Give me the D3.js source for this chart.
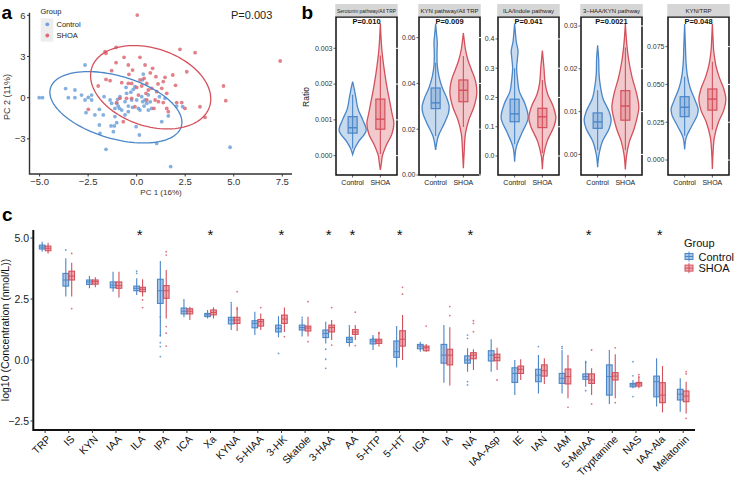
<!DOCTYPE html>
<html><head><meta charset="utf-8">
<script src="https://cdn.jsdelivr.net/npm/d3@7"></script>
<style>body{margin:0;background:#fff}svg{display:block;font-family:'Liberation Sans',Arial,sans-serif}</style>
</head><body><svg id="c" width="738" height="477"></svg>
<script>
// ---------------- DATA ----------------
// Panel a: PCA scores
const ctrlX=[-5.02,-4.85,-3.66,-3.52,-3.18,-3.18,-2.84,-2.66,-2.49,-2.32,-2.61,-2.66,-2.32,-2.15,-1.92,-1.92,-1.89,-1.68,-1.72,-1.58,-1.37,-1.32,-1.29,-1.2,-1.15,-1.12,-1.12,-1.03,-0.98,-0.95,-0.89,-0.86,-0.77,-0.6,-0.6,-0.55,-0.52,-0.43,-0.43,-0.26,-0.21,-0.17,-0.09,-0.03,0,0.09,0.17,0.26,0.31,0.34,0.38,0.43,0.14,0.52,0.6,0.77,1.03,1.17,1.29,1.46,1.63,1.75,2.06,2.37,4.81,-1.03,0.6,0.3,-0.3,0.7];
const ctrlY=[0,0,0.66,0,0.56,0,0.19,-0.17,0.02,-0.17,-1.09,2.38,0.19,-1.26,-0.85,-1.99,-2.6,0.07,-1.26,-3.76,-0.17,-2.06,-0.41,-2.48,-2.06,-0.78,-1.38,-0.41,-0.12,-0.61,-0.78,0.07,-0.9,-0.29,-1.26,0.75,0.32,-0.61,-1.02,-0.17,-0.7,0.61,0.8,-2.11,-0.17,-0.78,-0.9,0.07,-0.29,1.72,-0.61,-0.17,-2.72,-0.41,-0.9,-0.78,-3.33,0.07,-1.75,-0.05,-1.33,-5.02,-0.61,-0.66,-3.61,-1.82,0.2,1.3,0.4,-0.3];
const shoaX=[0.03,-1.58,-1.63,-1.06,-1.06,-0.65,-0.43,-0.21,0.17,0.43,0.38,0.82,0.99,1.46,1.86,2.23,3.01,2.58,1.37,0.52,0.17,-0.77,-0.43,-1.29,-1.58,-1.98,-0.26,0,0.26,0.6,0.77,1.03,1.29,1.55,0.48,0.09,-0.26,-0.52,-0.86,-1.03,0.95,1.12,1.37,0.89,1.55,2.06,2.32,2.49,3.26,3.52,4.47,4.59,1.63,-0.69,-2.49,-1.37,-0.09,0.52,7.39,0.7,1.1,-0.4,2.0];
const shoaY=[6.02,3.23,3.35,3.67,2.55,2.94,2.38,2.01,2.94,2.38,1.41,2.14,1.53,1.48,1.65,3.52,3.28,1.89,1.17,1.04,1.29,1.09,1.04,1.97,1.33,0.85,1.04,0.75,0.85,0.56,0.68,0.44,0.68,0.32,0.32,0.19,-0.05,-0.05,-0.05,-0.36,-0.17,-0.29,-0.36,-0.78,-0.78,-0.36,-0.36,-0.78,-0.66,-1.43,0.85,-0.22,-1.02,-1.75,-0.85,1.24,-0.66,-0.17,2.67,1.8,1.0,1.7,0.9];
// 95% ellipses: [centerX, centerY, axis1 dx, axis1 dy, axis2 dx, axis2 dy] (data units)
const ctrlEllipse=[-1.07,-0.70,3.37,-1.40,-0.456,-2.19];
const shoaEllipse=[0.72,0.76,3.03,-1.43,-0.636,-2.68];
const pcaXTicks=[-5,-2.5,0,2.5,5,7.5];
const pcaYTicks=[-3,0,3,6];
const pcaP="P=0.003";

// Panel b: ratios (violin profiles [value, relative width]; box [lo,q1,med,q3,hi])
const ratioNames=["Serotonin pathway/All TRP","KYN pathway/All TRP","ILA/Indole pathway","3\u2212HAA/KYN pathway","KYN/TRP"];
const ratioP=["P=0.010","P=0.009","P=0.041","P=0.0021","P=0.048"];
const ratioDomains=[[-0.00054,0.003874],[0,0.069],[-0.065,0.475],[-0.0048,0.0321],[-0.0099,0.0946]];
const ratioTicks=[[0,0.001,0.002,0.003],[0,0.02,0.04,0.06],[0,0.1,0.2,0.3,0.4],[0,0.01,0.02,0.03],[0,0.025,0.05,0.075]];
const ratioFormats=[".3f",".2f",".1f",".2f",".3f"];
const ctrlViolin=[
 [[0.00003,0],[0.0002,0.15],[0.0004,0.45],[0.0007,1.0],[0.001,0.75],[0.0013,0.4],[0.0016,0.25],[0.0019,0.1],[0.00207,0]],
 [[0.011,0],[0.017,0.2],[0.022,0.6],[0.027,0.95],[0.03,1.0],[0.034,0.8],[0.038,0.5],[0.043,0.25],[0.048,0.12],[0.053,0.1],[0.058,0.12],[0.062,0.06],[0.066,0]],
 [[-0.02,0],[0.03,0.12],[0.08,0.55],[0.13,1.0],[0.18,0.75],[0.22,0.35],[0.26,0.22],[0.3,0.15],[0.33,0.2],[0.36,0.25],[0.39,0.12],[0.42,0.06],[0.453,0]],
 [[-0.003,0],[0.0,0.1],[0.003,0.35],[0.006,0.85],[0.008,1.0],[0.01,0.85],[0.013,0.4],[0.016,0.2],[0.019,0.1],[0.022,0.08],[0.0255,0]],
 [[0.007,0],[0.015,0.12],[0.022,0.5],[0.03,0.95],[0.034,1.0],[0.04,0.75],[0.048,0.4],[0.056,0.2],[0.065,0.1],[0.075,0.06],[0.09,0]]
];
const shoaViolin=[
 [[-0.0004,0],[-0.0002,0.08],[0,0.15],[0.0003,0.45],[0.0006,0.85],[0.0009,1.0],[0.0012,0.85],[0.0015,0.7],[0.002,0.45],[0.0025,0.25],[0.003,0.1],[0.0037,0]],
 [[0.003,0],[0.01,0.06],[0.018,0.15],[0.024,0.4],[0.03,0.8],[0.036,1.0],[0.041,0.9],[0.046,0.6],[0.05,0.35],[0.055,0.15],[0.059,0.06],[0.062,0]],
 [[-0.045,0],[0.0,0.08],[0.05,0.35],[0.1,0.85],[0.13,1.0],[0.17,0.8],[0.21,0.4],[0.25,0.2],[0.3,0.12],[0.36,0]],
 [[-0.0035,0],[0.0,0.1],[0.003,0.3],[0.006,0.65],[0.009,0.9],[0.011,1.0],[0.014,0.85],[0.018,0.5],[0.022,0.25],[0.026,0.1],[0.0305,0]],
 [[-0.006,0],[0.005,0.05],[0.015,0.15],[0.025,0.45],[0.033,0.85],[0.04,1.0],[0.047,0.85],[0.055,0.5],[0.063,0.25],[0.072,0.1],[0.08,0.05],[0.09,0]]
];
const ctrlRatioBox=[[0.0002,0.00063,0.00078,0.00109,0.0017],[0.017,0.029,0.0315,0.038,0.049],[0.04,0.117,0.144,0.194,0.3],[0.001,0.0061,0.0076,0.0097,0.015],[0.016,0.0287,0.0349,0.0419,0.055]];
const shoaRatioBox=[[0.00005,0.00074,0.00102,0.00158,0.0028],[0.021,0.032,0.037,0.0415,0.052],[0.01,0.097,0.134,0.163,0.26],[0.001,0.008,0.0113,0.0149,0.025],[0.02,0.033,0.0403,0.047,0.065]];
const groups=["Control","SHOA"];

// Panel c: metabolites, log10 concentration box stats [lo,q1,med,q3,hi]
const metabolites=["TRP","IS","KYN","IAA","ILA","IPA","ICA","Xa","KYNA","5-HIAA","3-HK","Skatole","3-HAA","AA","5-HTP","5\u2212HT","IGA","IA","NA","IAA-Asp","IE","IAN","IAM","5-MeIAA","Tryptamine","NAS","IAA-Ala","Melatonin"];
const significant=["ILA","Xa","3-HK","3-HAA","AA","5\u2212HT","NA","5-MeIAA","IAA-Ala"];
const ctrlStats=[[4.44,4.55,4.63,4.71,4.85],[2.6,3.03,3.28,3.55,4.17],[2.94,3.10,3.2,3.28,3.44],[2.8,2.96,3.07,3.2,3.62],[2.66,2.84,2.94,3.03,3.35],[0.96,2.32,2.84,3.31,4.06],[1.75,1.89,2.0,2.13,2.5],[1.7,1.78,1.85,1.91,2.05],[1.23,1.48,1.64,1.75,2.32],[1.02,1.32,1.5,1.61,1.98],[0.93,1.15,1.3,1.43,1.8],[0.96,1.23,1.33,1.43,1.7],[0.68,0.92,1.09,1.23,1.57],[0.55,0.72,0.85,0.93,1.37],[0.41,0.66,0.77,0.85,1.02],[-0.31,0.11,0.34,0.78,1.39],[0.34,0.46,0.57,0.64,0.75],[-0.93,-0.13,0.2,0.64,1.43],[-0.48,-0.13,0.0,0.17,0.48],[-0.48,-0.04,0.2,0.38,0.85],[-1.44,-0.92,-0.55,-0.32,0.0],[-1.37,-0.89,-0.62,-0.38,0.2],[-1.37,-0.96,-0.75,-0.55,0.41],[-1.1,-0.79,-0.68,-0.57,-0.03],[-1.8,-1.44,-0.68,-0.2,0.41],[-1.16,-1.1,-1.02,-0.96,-0.82],[-1.91,-1.51,-0.89,-0.66,0.07],[-2.12,-1.64,-1.4,-1.2,-0.75]];
const shoaStats=[[4.37,4.48,4.58,4.67,4.81],[2.6,3.28,3.44,3.64,3.99],[2.98,3.11,3.21,3.28,3.39],[2.56,2.94,3.05,3.2,3.62],[2.6,2.8,2.9,2.98,3.31],[1.7,2.53,2.84,3.05,3.69],[1.64,1.89,2.0,2.1,2.18],[1.7,1.85,1.95,2.05,2.16],[1.19,1.5,1.64,1.75,2.18],[1.23,1.39,1.57,1.66,1.91],[1.15,1.5,1.68,1.84,2.15],[0.96,1.19,1.31,1.39,1.77],[0.82,1.15,1.33,1.43,1.64],[0.82,1.05,1.15,1.25,1.43],[0.55,0.68,0.78,0.85,1.16],[0.0,0.57,0.85,1.2,1.84],[0.34,0.38,0.5,0.57,0.66],[-1.05,-0.2,0.2,0.44,1.34],[-0.41,0.05,0.2,0.3,0.44],[-0.41,-0.03,0.1,0.24,0.5],[-0.82,-0.55,-0.38,-0.25,0.03],[-0.98,-0.66,-0.44,-0.2,0.07],[-1.57,-0.98,-0.68,-0.37,0.2],[-1.44,-0.96,-0.82,-0.57,-0.34],[-1.57,-0.82,-0.66,-0.52,0.24],[-1.16,-1.07,-0.98,-0.92,-0.68],[-2.15,-1.75,-1.44,-0.93,-0.25],[-2.19,-1.71,-1.48,-1.27,-0.89]];
const ctrlOutliers=[[],[4.51],[],[],[3.55,3.64],[0.71,0.55,0.14,1.77,1.0],[],[],[2.35],[],[0.27],[1.75],[0.44,0.03,-0.34],[1.4],[0.9],[],[],[],[1.02,0.89,-0.89,-1.02],[],[],[0.55],[0.55,0.48],[-1.26,-0.1],[],[-0.07,-1.5,-0.65],[],[]];
const shoaOutliers=[[],[4.37,2.11],[],[],[2.46,2.15],[4.44,4.3,1.37,1.1,0.57],[],[],[2.8,2.1],[2.15],[0.96],[2.39,0.75],[2.15,0.61],[1.96,0.59],[1.1],[2.98,2.7],[1.39],[2.19,1.82],[1.61,1.5,1.16],[-0.82],[],[],[-1.94],[0.41,-1.8],[0.5,-1.75],[-0.6,-0.7],[],[-0.48,-0.57,-2.39]];
const concTicks=[-2.5,0,2.5,5];

// ---------------- DRAW ----------------
const svg=d3.select("#c");
const BLUE="#4A86C8", RED="#D4505B", BLUE_PT="#6FA2DA", RED_PT="#DD6B74";
const col={Control:BLUE,SHOA:RED};
const fmtNum=v=>d3.format(".1f")(v).replace("-","\u2212");

// ===== Panel a =====
const xA=d3.scaleLinear().domain([-5.52,8.0]).range([29.5,292]);
const yA=d3.scaleLinear().domain([-5.56,6.19]).range([174,12.7]);
const gA=svg.append("g");
gA.selectAll("circle.c").data(d3.zip(ctrlX,ctrlY)).join("circle")
  .attr("cx",d=>xA(d[0])).attr("cy",d=>yA(d[1])).attr("r",1.9).attr("fill",BLUE_PT).attr("opacity",0.85);
gA.selectAll("circle.s").data(d3.zip(shoaX,shoaY)).join("circle")
  .attr("cx",d=>xA(d[0])).attr("cy",d=>yA(d[1])).attr("r",1.9).attr("fill",RED_PT).attr("opacity",0.85);
function ellipsePts(e){
  return d3.range(0,121).map(i=>{const t=i/120*2*Math.PI;
    return [xA(e[0]+Math.cos(t)*e[2]+Math.sin(t)*e[4]), yA(e[1]+Math.cos(t)*e[3]+Math.sin(t)*e[5])];});
}
[[ctrlEllipse,BLUE],[shoaEllipse,RED]].forEach(([e,c])=>{
  gA.append("path").attr("d",d3.line()(ellipsePts(e))).attr("fill","none").attr("stroke",c).attr("stroke-width",1.3);
});
gA.append("path").attr("d",`M${xA.range()[0]},${yA.range()[1]}V${yA.range()[0]}H${xA.range()[1]}`)
  .attr("fill","none").attr("stroke","#333").attr("stroke-width",1.4);
pcaXTicks.forEach(t=>{
  gA.append("line").attr("x1",xA(t)).attr("x2",xA(t)).attr("y1",174).attr("y2",176.5).attr("stroke","#333");
  gA.append("text").attr("x",xA(t)).attr("y",185).attr("text-anchor","middle").attr("font-size",9.5).attr("fill","#333").text(fmtNum(t));
});
pcaYTicks.forEach(t=>{
  gA.append("line").attr("x1",27).attr("x2",29.5).attr("y1",yA(t)).attr("y2",yA(t)).attr("stroke","#333");
  gA.append("text").attr("x",25.5).attr("y",yA(t)+3.3).attr("text-anchor","end").attr("font-size",9.5).attr("fill","#333").text(String(t).replace("-","\u2212"));
});
gA.append("text").attr("x",161).attr("y",195).attr("text-anchor","middle").attr("font-size",8).attr("fill","#333").text("PC 1 (16%)");
gA.append("text").attr("transform","translate(10,97) rotate(-90)").attr("text-anchor","middle").attr("font-size",9).attr("fill","#333").text("PC 2 (11%)");
gA.append("text").attr("x",231).attr("y",18.5).attr("font-size",11).attr("fill","#222").text(pcaP);
// legend
gA.append("text").attr("x",40.5).attr("y",13.5).attr("font-size",7.5).attr("fill","#222").text("Group");
gA.append("rect").attr("x",40.7).attr("y",18.3).attr("width",12.6).attr("height",23.4).attr("fill","#EDEDED");
groups.forEach((g,i)=>{
  gA.append("circle").attr("cx",47.3).attr("cy",24.3+i*11.2).attr("r",1.9).attr("fill",i?RED_PT:BLUE_PT);
  gA.append("text").attr("x",56.5).attr("y",27+i*11.2).attr("font-size",7.5).attr("fill","#222").text(g);
});
svg.append("text").attr("x",1.5).attr("y",18.5).attr("font-size",19).attr("font-weight","bold").text("a");

// ===== Panel b =====
svg.append("text").attr("x",301.5).attr("y",18.5).attr("font-size",19).attr("font-weight","bold").text("b");
const facetLefts=[336,419,498,581,668], facetW=61, pTop=17, pBot=175;
svg.append("text").attr("transform","translate(309,97) rotate(-90)").attr("text-anchor","middle").attr("font-size",8.5).attr("fill","#222").text("Ratio");
ratioNames.forEach((name,k)=>{
  const L=facetLefts[k];
  const g=svg.append("g");
  const x=d3.scalePoint().domain(groups).range([L,L+facetW]).padding(0.6);
  const y=d3.scaleLinear().domain(ratioDomains[k]).range([pBot,pTop]);
  const maxHalf=13.5;
  const violins=[ctrlViolin[k],shoaViolin[k]], boxes=[ctrlRatioBox[k],shoaRatioBox[k]];
  groups.forEach((gname,j)=>{
    const cx=x(gname), c=col[gname];
    const area=d3.area().curve(d3.curveCatmullRom.alpha(0.5))
      .y(d=>y(d[0])).x0(d=>cx-d[1]*maxHalf).x1(d=>cx+d[1]*maxHalf);
    g.append("path").attr("d",area(violins[j])).attr("fill",c).attr("fill-opacity",0.3).attr("stroke",c).attr("stroke-width",1.3);
    const b=boxes[j];
    g.append("line").attr("x1",cx).attr("x2",cx).attr("y1",y(b[0])).attr("y2",y(b[4])).attr("stroke",c).attr("stroke-width",1.1);
    g.append("rect").attr("x",cx-4.5).attr("width",9).attr("y",y(b[3])).attr("height",y(b[1])-y(b[3]))
      .attr("fill",c).attr("fill-opacity",0.3).attr("stroke",c).attr("stroke-width",1.2);
    g.append("line").attr("x1",cx-4.5).attr("x2",cx+4.5).attr("y1",y(b[2])).attr("y2",y(b[2])).attr("stroke",c).attr("stroke-width",1.4);
    g.append("line").attr("x1",cx).attr("x2",cx).attr("y1",pBot).attr("y2",pBot+2.5).attr("stroke","#333").attr("stroke-width",0.8);
    g.append("text").attr("x",cx).attr("y",pBot+9.5).attr("text-anchor","middle").attr("font-size",7).attr("fill","#222").text(gname);
  });
  // border
  g.append("rect").attr("x",L).attr("y",pTop).attr("width",facetW).attr("height",pBot-pTop).attr("fill","none").attr("stroke","#111").attr("stroke-width",1.5);
  // strip
  g.append("rect").attr("x",L-0.75).attr("y",4).attr("width",facetW+1.5).attr("height",pTop-4.7).attr("fill","#D6D6D6");
  const st=g.append("text").attr("x",L+facetW/2).attr("y",13).attr("text-anchor","middle").attr("font-size",6).attr("fill","#222").text(name);
  const tl=st.node().getComputedTextLength();
  if(tl>facetW-2){st.attr("textLength",facetW-2).attr("lengthAdjust","spacingAndGlyphs");}
  // ticks
  ratioTicks[k].forEach(t=>{
    g.append("line").attr("x1",L-2.5).attr("x2",L).attr("y1",y(t)).attr("y2",y(t)).attr("stroke","#333").attr("stroke-width",0.8);
    g.append("text").attr("x",L-3.5).attr("y",y(t)+2.4).attr("text-anchor","end").attr("font-size",7).attr("fill","#333").text(d3.format(ratioFormats[k])(t));
    g.append("line").attr("x1",L+facetW-1).attr("x2",L+facetW+1).attr("y1",y(t)).attr("y2",y(t)).attr("stroke","#fff").attr("stroke-width",1);
  });
  g.append("text").attr("x",L+facetW/2).attr("y",23.5).attr("text-anchor","middle").attr("font-size",7.5).attr("font-weight","bold").attr("fill","#111").text(ratioP[k]);
});

// ===== Panel c =====
svg.append("text").attr("x",2).attr("y",221).attr("font-size",19).attr("font-weight","bold").text("c");
const xC=d3.scalePoint().domain(metabolites).range([33.3,695]).padding(0.5);
const yC=d3.scaleLinear().domain([-2.87,5.33]).range([430,230]);
const step=xC.step(), bw=0.24*step, off=0.125*step;
const gC=svg.append("g");
metabolites.forEach((m,i)=>{
  [[ctrlStats[i],ctrlOutliers[i],BLUE,-off],[shoaStats[i],shoaOutliers[i],RED,off]].forEach(([s,o,c,dx])=>{
    const cx=xC(m)+dx;
    gC.append("line").attr("x1",cx).attr("x2",cx).attr("y1",yC(s[0])).attr("y2",yC(s[4])).attr("stroke",c).attr("stroke-width",1.1);
    gC.append("rect").attr("x",cx-bw/2).attr("width",bw).attr("y",yC(s[3])).attr("height",Math.max(1,yC(s[1])-yC(s[3])))
      .attr("fill",c).attr("fill-opacity",0.45).attr("stroke",c).attr("stroke-width",1.1);
    gC.append("line").attr("x1",cx-bw/2).attr("x2",cx+bw/2).attr("y1",yC(s[2])).attr("y2",yC(s[2])).attr("stroke",c).attr("stroke-width",1);
    o.forEach(v=>gC.append("circle").attr("cx",cx).attr("cy",yC(v)).attr("r",0.9).attr("fill",c).attr("opacity",0.8));
  });
});
significant.forEach(m=>{
  gC.append("text").attr("x",xC(m)).attr("y",240).attr("text-anchor","middle").attr("font-size",15).attr("fill","#111").text("*");
});
gC.append("path").attr("d",`M33.3,${yC.range()[1]}V430H695`).attr("fill","none").attr("stroke","#111").attr("stroke-width",2);
concTicks.forEach(t=>{
  gC.append("line").attr("x1",30.5).attr("x2",33.3).attr("y1",yC(t)).attr("y2",yC(t)).attr("stroke","#333");
  gC.append("text").attr("x",29).attr("y",yC(t)+3.7).attr("text-anchor","end").attr("font-size",10.5).attr("fill","#222").text(fmtNum(t));
});
metabolites.forEach(m=>{
  gC.append("line").attr("x1",xC(m)).attr("x2",xC(m)).attr("y1",430).attr("y2",433).attr("stroke","#333");
  gC.append("text").attr("transform",`translate(${xC(m)+1},434.5) rotate(-45)`).attr("dy","0.72em").attr("text-anchor","end")
    .attr("font-size",10.5).attr("fill","#111").text(m);
});
gC.append("text").attr("transform","translate(9,330) rotate(-90)").attr("text-anchor","middle").attr("font-size",10.5).attr("fill","#111").text("log10 (Concentration (nmol/L))");
// legend
gC.append("text").attr("x",684).attr("y",246.5).attr("font-size",11).attr("fill","#111").text("Group");
groups.forEach((g,i)=>{
  const cy=256.5+i*11.6, c=col[g], kx=689;
  gC.append("line").attr("x1",kx).attr("x2",kx).attr("y1",cy-5).attr("y2",cy+5).attr("stroke",c).attr("stroke-width",1);
  gC.append("rect").attr("x",kx-4).attr("y",cy-3).attr("width",8).attr("height",6).attr("fill",c).attr("fill-opacity",0.45).attr("stroke",c).attr("stroke-width",1);
  gC.append("line").attr("x1",kx-4).attr("x2",kx+4).attr("y1",cy).attr("y2",cy).attr("stroke",c).attr("stroke-width",1);
  gC.append("text").attr("x",698.5).attr("y",cy+4).attr("font-size",11).attr("fill","#111").text(g);
});
</script></body></html>
